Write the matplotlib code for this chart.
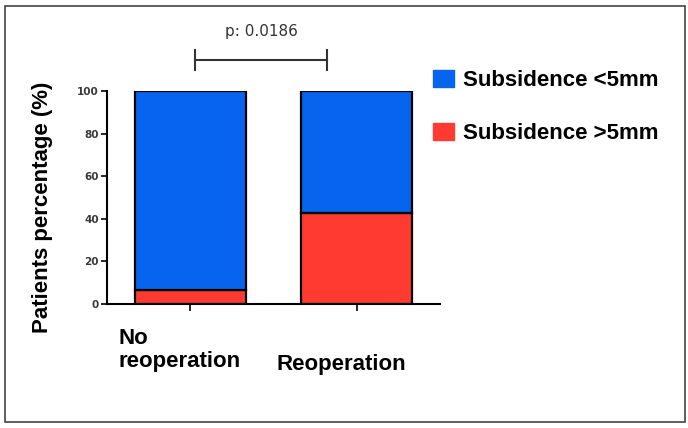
import matplotlib
matplotlib.use("Agg")
import matplotlib.pyplot as plt
from matplotlib.patches import Rectangle, Patch

categories = ["No\nreoperation", "Reoperation"]
subs_gt5 = [6.5, 42.7]
subs_lt5 = [93.5, 57.3]
series_names = ["Subsidence <5mm", "Subsidence >5mm"]
yticks = [0, 20, 40, 60, 80, 100]
p_text = "p: 0.0186"

blue = "#0764EE"
red = "#FF3A30"

plt.rcParams['font.family'] = ['Liberation Sans', 'DejaVu Sans']

fig = plt.figure(figsize=(6.88, 4.28), dpi=100)
ax = fig.add_axes([0.1555, 0.2897, 0.4840, 0.4977])

x = [0, 1]
w = 0.665
ax.bar(x, subs_gt5, width=w, color=red, edgecolor="black", linewidth=1.6, zorder=2)
ax.bar(x, subs_lt5, width=w, bottom=subs_gt5, color=blue, edgecolor="black", linewidth=1.6, zorder=2)

ax.set_xlim(-0.5, 1.5)
ax.set_ylim(0, 100)
ax.set_yticks(yticks)
ax.set_yticklabels([str(v) for v in yticks], fontsize=7.5, fontweight='bold',
                   color='#3a3a3a', family='DejaVu Sans')
ax.set_xticks(x)
ax.set_xticklabels([])
for s in ["top", "right"]:
    ax.spines[s].set_visible(False)
for s in ["left", "bottom"]:
    ax.spines[s].set_linewidth(1.5)
ax.tick_params(axis='y', length=4, width=1.2, pad=2)
ax.tick_params(axis='x', length=5, width=1.2)

# x labels
ax.text(-0.431, -11.4, categories[0], ha='left', va='top', fontsize=16, fontweight='bold',
        linespacing=1.12)
ax.text(0.521, -31.0, categories[1], ha='left', va='baseline', fontsize=16, fontweight='bold')

ax.set_ylabel("Patients percentage (%)", fontsize=16, fontweight='bold')
ax.yaxis.label.set_va('center')
ax.yaxis.set_label_coords(-0.195, 0.455)

# significance bracket
bx0, bx1, by = 0.03, 0.82, 114.6
ax.plot([bx0, bx1], [by, by], color='#333333', lw=1.5, clip_on=False)
ax.plot([bx0, bx0], [by - 4.7, by + 4.7], color='#333333', lw=1.5, clip_on=False)
ax.plot([bx1, bx1], [by - 4.7, by + 4.7], color='#333333', lw=1.5, clip_on=False)
ax.text((bx0 + bx1) / 2, 127.7, p_text, ha='center', va='center', fontsize=11,
        color='#333333', family='DejaVu Sans')

handles = [Patch(facecolor=blue, edgecolor=blue), Patch(facecolor=red, edgecolor=red)]
fig.legend(handles, series_names, loc='upper left', bbox_to_anchor=(0.600, 0.883),
           frameon=False, prop={'size': 16, 'weight': 'bold'}, handlelength=0.95,
           handleheight=0.77, labelspacing=1.45, handletextpad=0.4)

fig.patches.append(Rectangle((5 / 688, 6 / 428), 680 / 688, 416 / 428, transform=fig.transFigure,
                             fill=False, edgecolor='#444444', linewidth=1.2))

fig.savefig("out.png", dpi=100)
